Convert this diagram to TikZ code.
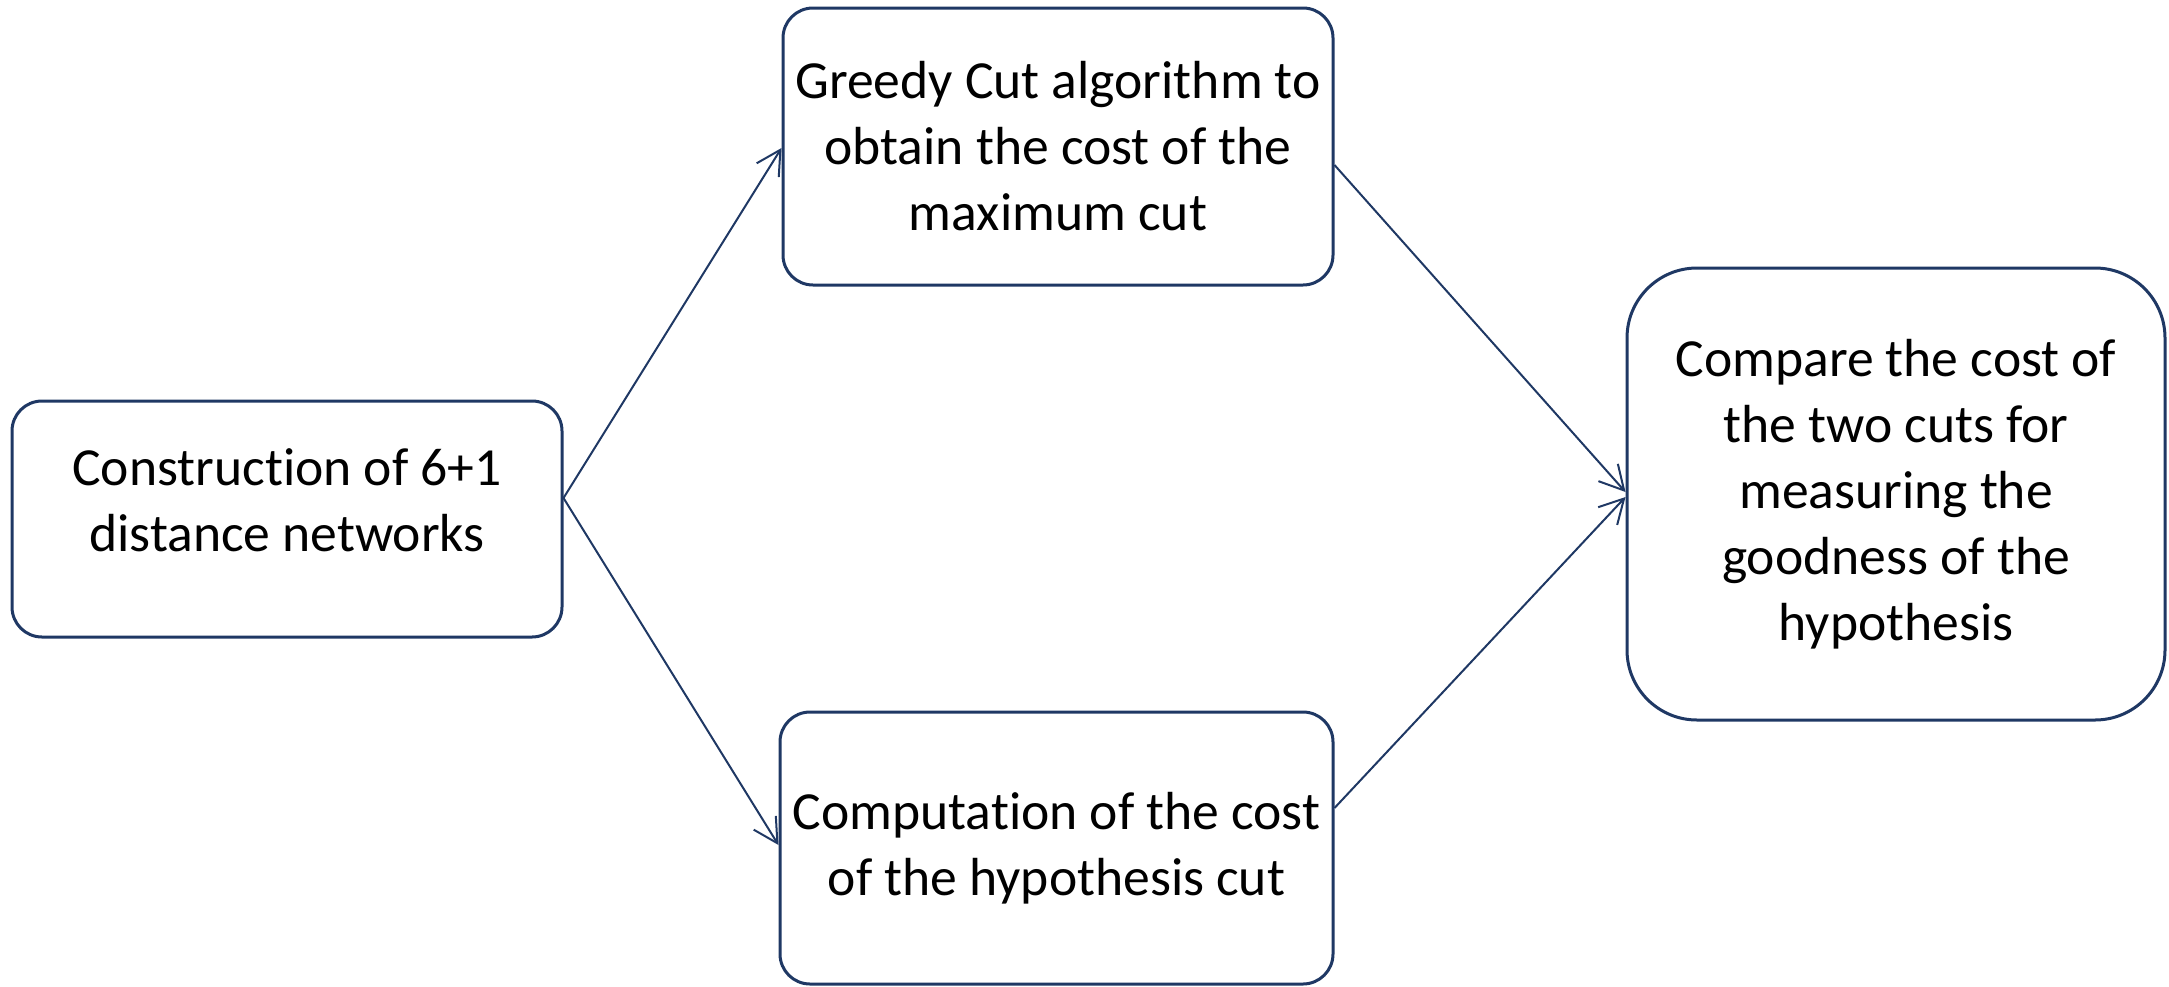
\documentclass[tikz,border=0pt]{standalone}
\usepackage{fontspec}
\setmainfont{Carlito}[RawFeature=-liga]
\usetikzlibrary{arrows.meta}
\definecolor{navy}{HTML}{1F3864}
\tikzset{
  stagebox/.style={draw=navy, line width=1.5pt, rounded corners=15pt, fill=white,
    align=center, font=\fontsize{26.8}{33}\selectfont, inner sep=0pt},
  bigbox/.style={stagebox, rounded corners=35pt},
  label text/.style={align=center, font=\fontsize{26.8}{33}\selectfont, inner sep=0pt},
  flow/.style={draw=navy, line width=1pt, -{Straight Barb[length=12pt, width=13pt, line width=1pt]}}
}
\begin{document}
\begin{tikzpicture}[x=0.5pt, y=-0.5pt]
  \useasboundingbox (0,0) rectangle (2169,986);

  % the four stages
  \node[stagebox, minimum width=275pt, minimum height=118pt] (build) at (287,519) {};
  \node[label text] (buildtext) at ([yshift=9.5pt]build.center)
    {Construction of 6+1\\distance networks};
  \node[stagebox, minimum width=275pt, minimum height=138.5pt] (greedy) at (1058,146.5)
    {Greedy Cut algorithm to\\obtain the cost of the\\maximum cut};
  \node[stagebox, minimum width=276.5pt, minimum height=136pt] (hypo) at (1056.5,848)
    {Computation of the cost\\of the hypothesis cut};
  \node[bigbox, minimum width=269pt, minimum height=226pt] (compare) at (1896,494)
    {Compare the cost of\\the two cuts for\\measuring the\\goodness of the\\hypothesis};

  % connectors
  \draw[flow] ([yshift=10.5pt]build.east) -- ([yshift=-0.75pt]greedy.west);
  \draw[flow] ([yshift=10.5pt]build.east) -- ([yshift=1.5pt]hypo.west);
  \draw[flow] ([yshift=-9.25pt]greedy.east) -- ([yshift=1pt]compare.west);
  \draw[flow] ([yshift=20pt]hypo.east) -- ([yshift=-1.5pt]compare.west);
\end{tikzpicture}
\end{document}
